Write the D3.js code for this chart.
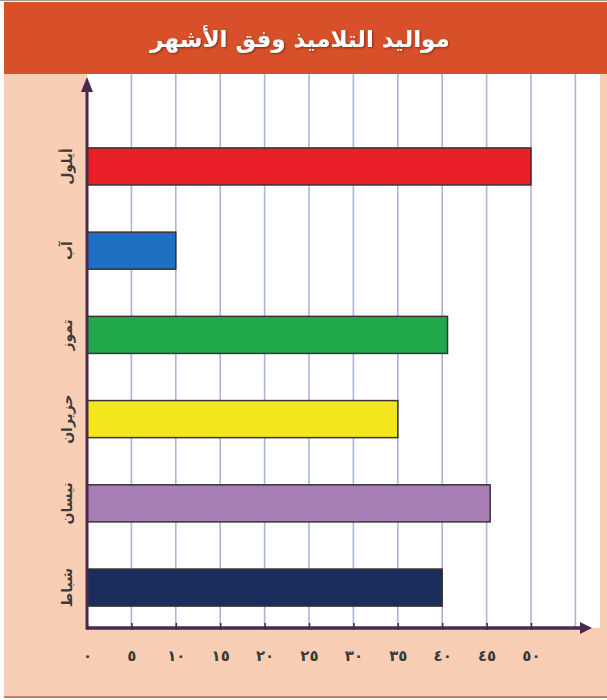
<!DOCTYPE html>
<html>
<head>
<meta charset="utf-8">
<script src="https://cdn.jsdelivr.net/npm/d3@7"></script>
<style>
  html, body { margin: 0; padding: 0; background: #ffffff; }
  svg { display: block; }
</style>
</head>
<body>
<div id="chart"></div>
<script>
const title = "مواليد التلاميذ وفق الأشهر";
const months = ["أيلول", "آب", "تموز", "حزيران", "نيسان", "شباط"];
const births = [50, 10, 40.6, 35, 45.4, 40];
const barColors = ["#e81f27", "#1f6fc2", "#21a84b", "#f4e61c", "#a77fb6", "#1b2d5c"];
const tickValues = [0, 5, 10, 15, 20, 25, 30, 35, 40, 45, 50];
const tickLabels = ["٠", "٥", "١٠", "١٥", "٢٠", "٢٥", "٣٠", "٣٥", "٤٠", "٤٥", "٥٠"];
const gridValues = [5, 10, 15, 20, 25, 30, 35, 40, 45, 50, 55];

const W = 607, H = 700;
const svg = d3.select("#chart").append("svg").attr("width", W).attr("height", H);

const defs = svg.append("defs");
const f = defs.append("filter").attr("id", "shadow").attr("x", "-10%").attr("y", "-30%").attr("width", "120%").attr("height", "160%");
f.append("feDropShadow").attr("dx", 1).attr("dy", 1).attr("stdDeviation", 1.2).attr("flood-color", "#6a2010").attr("flood-opacity", 0.8);

// background
svg.append("rect").attr("x", 0).attr("y", 0).attr("width", W).attr("height", H).attr("fill", "#ffffff");
svg.append("rect").attr("x", 4).attr("y", 2).attr("width", W - 4).attr("height", H - 5)
  .attr("fill", "#f8ceb5");
svg.append("line").attr("x1", 0).attr("x2", W).attr("y1", 0.5).attr("y2", 0.5).attr("stroke", "#9a9a9a");
svg.append("line").attr("x1", 4).attr("x2", W).attr("y1", H - 3).attr("y2", H - 3).attr("stroke", "#d07a6a").attr("stroke-width", 2);

// title bar
svg.append("rect").attr("x", 4).attr("y", 2).attr("width", W - 4).attr("height", 72).attr("fill", "#d8502a");
svg.append("text").attr("x", 300).attr("y", 47)
  .attr("text-anchor", "middle").attr("direction", "rtl")
  .attr("font-family", "'DejaVu Sans', 'Noto Sans', sans-serif")
  .attr("font-weight", "bold").attr("font-size", 23).attr("fill", "#ffffff")
  .attr("filter", "url(#shadow)")
  .text(title);

// plot area
const x0 = 87, yAxisY = 628, plotTop = 74, plotRight = 600;
svg.append("rect").attr("x", x0).attr("y", plotTop).attr("width", plotRight - x0).attr("height", yAxisY - plotTop)
  .attr("fill", "#ffffff");

const x = d3.scaleLinear().domain([0, 55]).range([x0, 575.4]);
const y = d3.scaleBand().domain(months).range([126, yAxisY]).paddingInner(0.56).paddingOuter(0.26);

// grid
svg.append("g").selectAll("line").data(gridValues).join("line")
  .attr("x1", d => x(d)).attr("x2", d => x(d))
  .attr("y1", plotTop).attr("y2", yAxisY)
  .attr("stroke", "#a9b6d9").attr("stroke-width", 1.6);

// bars
svg.append("g").selectAll("rect").data(months).join("rect")
  .attr("x", x(0))
  .attr("y", d => y(d))
  .attr("width", (d, i) => x(births[i]) - x(0))
  .attr("height", y.bandwidth())
  .attr("fill", (d, i) => barColors[i])
  .attr("stroke", "#3a3333").attr("stroke-width", 1.5);

// x axis
const xAxis = d3.axisBottom(x).tickValues(tickValues).tickSize(6).tickPadding(16)
  .tickFormat((d, i) => tickLabels[i]);
const gx = svg.append("g").attr("transform", `translate(0,${yAxisY})`).call(xAxis);
gx.select(".domain").remove();
gx.selectAll(".tick line").attr("stroke", "#3a2440").attr("stroke-width", 1.5).attr("y1", -5).attr("y2", 2);
gx.selectAll(".tick text")
  .attr("font-family", "'DejaVu Sans', sans-serif").attr("font-weight", "bold")
  .attr("font-size", 15).attr("fill", "#3a3a3a");

svg.append("line").attr("x1", x0).attr("x2", 580).attr("y1", yAxisY).attr("y2", yAxisY)
  .attr("stroke", "#4a2a4c").attr("stroke-width", 3.5);
svg.append("path").attr("d", `M580,${yAxisY - 6} L592,${yAxisY} L580,${yAxisY + 6} Z`).attr("fill", "#4a2a4c");

// y axis
svg.append("line").attr("x1", x0).attr("x2", x0).attr("y1", yAxisY + 1.5).attr("y2", 90)
  .attr("stroke", "#4a2a4c").attr("stroke-width", 3);
svg.append("path").attr("d", `M${x0 - 6},92 L${x0},77 L${x0 + 6},92 Z`).attr("fill", "#4a2a4c");

// y labels
svg.append("g").selectAll("text").data(months).join("text")
  .attr("transform", d => `translate(67,${y(d) + y.bandwidth() / 2}) rotate(-90)`)
  .attr("text-anchor", "middle").attr("dominant-baseline", "central")
  .attr("direction", "rtl")
  .attr("font-family", "'DejaVu Sans', 'Noto Sans', sans-serif")
  .attr("font-weight", "bold")
  .attr("font-size", 14).attr("fill", "#3a3a3a")
  .text(d => d);
</script>
</body>
</html>
